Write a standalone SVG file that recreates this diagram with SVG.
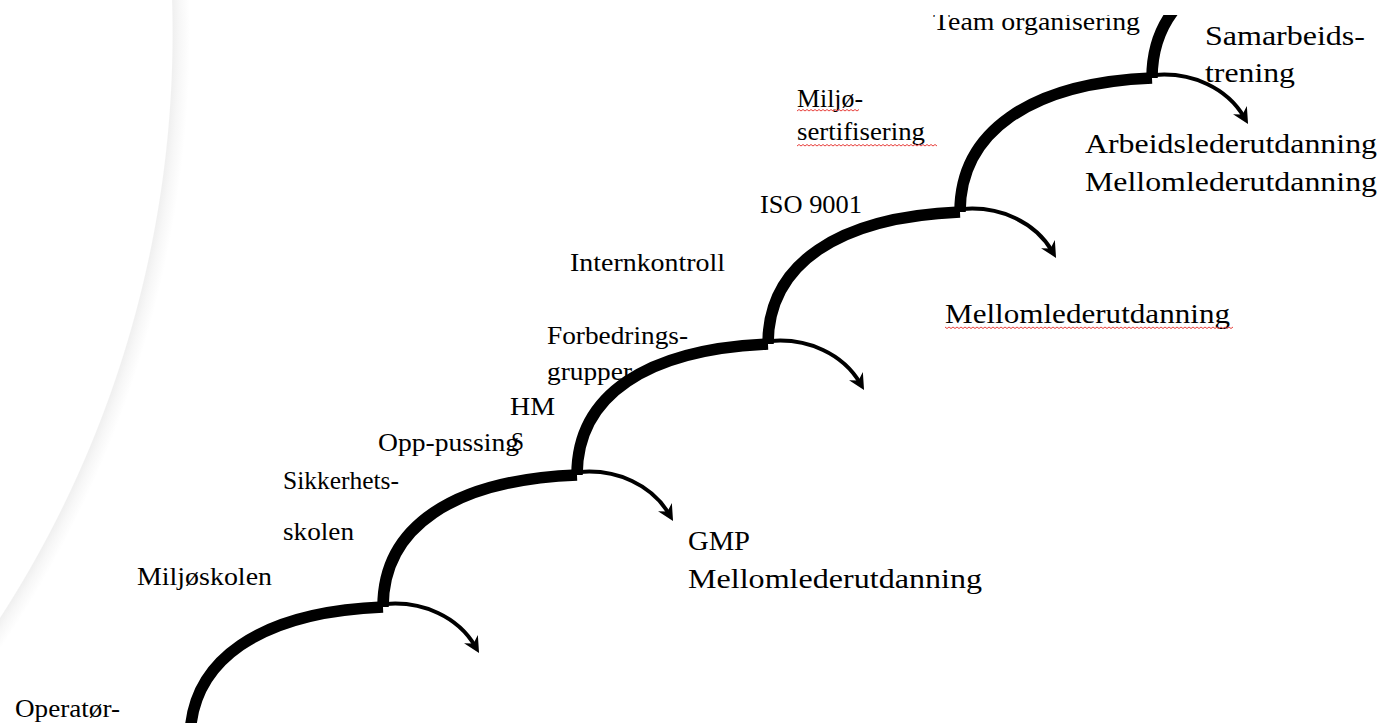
<svg xmlns="http://www.w3.org/2000/svg" width="1386" height="723" viewBox="0 0 1386 723">
  <defs>
    <radialGradient id="shadow" gradientUnits="userSpaceOnUse" cx="-905" cy="33" r="1095">
      <stop offset="0" stop-color="#ffffff"/>
      <stop offset="0.9836" stop-color="#ffffff"/>
      <stop offset="0.9846" stop-color="#f0f0f0"/>
      <stop offset="0.9905" stop-color="#f7f7f7"/>
      <stop offset="1" stop-color="#ffffff"/>
    </radialGradient>
    <clipPath id="page">
      <rect x="0" y="15" width="1386" height="708"/>
    </clipPath>
    <marker id="head" markerUnits="userSpaceOnUse" markerWidth="20" markerHeight="20" viewBox="0 -10 20 20" refX="8" refY="0" orient="auto">
      <path d="M0,-8 L16,0 L0,8 L5,0 z" fill="#000"/>
    </marker>
    <style>
      .step { fill: none; stroke: #000; stroke-width: 11.5; stroke-linecap: butt; }
      .arrow { fill: none; stroke: #000; stroke-width: 4; marker-end: url(#head); }
      .sm { font-family: "Liberation Serif", "Times New Roman", serif; font-size: 25.5px; fill: #000; }
      .lg { font-family: "Liberation Serif", "Times New Roman", serif; font-size: 28px; fill: #000; }
      .wavy { fill: none; stroke: #e8403c; stroke-width: 1; }
    </style>
  </defs>
  <rect width="1386" height="723" fill="#ffffff"/>
  <circle cx="-905" cy="33" r="1095" fill="url(#shadow)"/>

  <g clip-path="url(#page)">
    <g id="connectors">
      <path class="step" d="M190,740 c0,-80 70,-128 193,-133"/>
      <path class="step" d="M383,607 c0,-80 70,-127 194,-132"/>
      <path class="step" d="M577,475 c0,-80 70,-126 191,-131"/>
      <path class="step" d="M768,344 c0,-80 70,-127 192,-132"/>
      <path class="step" d="M960,212 c0,-80 70,-129 192,-134"/>
      <path class="step" d="M1152,78 c0,-80 70,-127 192,-132"/>
      <path class="arrow" d="M386,604 c37,-3 72,13 89,42"/>
      <path class="arrow" d="M580,472 c37,-3 72,13 89,42"/>
      <path class="arrow" d="M771,341 c37,-3 72,13 89,42"/>
      <path class="arrow" d="M963,209 c37,-3 72,13 89,42"/>
      <path class="arrow" d="M1155,75 c37,-3 72,13 89,42"/>
    </g>

    <g id="operator"><text class="sm" x="15" y="717" textLength="105" lengthAdjust="spacingAndGlyphs">Operatør-</text></g>
    <g id="miljoskolen"><text class="sm" x="137" y="585" textLength="135" lengthAdjust="spacingAndGlyphs">Miljøskolen</text></g>
    <g id="sikkerhetsskolen">
      <text class="sm" x="283" y="489" textLength="116" lengthAdjust="spacingAndGlyphs">Sikkerhets-</text>
      <text class="sm" x="283" y="540" textLength="71" lengthAdjust="spacingAndGlyphs">skolen</text>
    </g>
    <g id="opppussing"><text class="sm" x="378" y="451" textLength="141" lengthAdjust="spacingAndGlyphs">Opp-pussing</text></g>
    <g id="hms">
      <text class="sm" x="510" y="415" textLength="45" lengthAdjust="spacingAndGlyphs">HM</text>
      <text class="sm" x="511" y="450" textLength="13" lengthAdjust="spacingAndGlyphs">S</text>
    </g>
    <g id="forbedringsgrupper">
      <text class="sm" x="547" y="344" textLength="141" lengthAdjust="spacingAndGlyphs">Forbedrings-</text>
      <text class="sm" x="547" y="380" textLength="85" lengthAdjust="spacingAndGlyphs">grupper</text>
    </g>
    <g id="internkontroll"><text class="sm" x="570" y="271" textLength="155" lengthAdjust="spacingAndGlyphs">Internkontroll</text></g>
    <g id="iso9001"><text class="sm" x="760" y="213" textLength="102" lengthAdjust="spacingAndGlyphs">ISO 9001</text></g>
    <g id="miljosertifisering">
      <text class="sm" x="797" y="107" textLength="66" lengthAdjust="spacingAndGlyphs">Miljø-</text>
      <text class="sm" x="797" y="140" textLength="128" lengthAdjust="spacingAndGlyphs">sertifisering</text>
      <path class="wavy" d="M797,111 l2,-1.5 l2,1.5 l2,-1.5 l2,1.5 l2,-1.5 l2,1.5 l2,-1.5 l2,1.5 l2,-1.5 l2,1.5 l2,-1.5 l2,1.5 l2,-1.5 l2,1.5 l2,-1.5 l2,1.5 l2,-1.5 l2,1.5 l2,-1.5 l2,1.5 l2,-1.5 l2,1.5 l2,-1.5 l2,1.5 l2,-1.5 l2,1.5 l2,-1.5 l2,1.5 l2,-1.5 l2,1.5 l2,-1.5"/>
      <path class="wavy" d="M797,146 l2,-1.5 l2,1.5 l2,-1.5 l2,1.5 l2,-1.5 l2,1.5 l2,-1.5 l2,1.5 l2,-1.5 l2,1.5 l2,-1.5 l2,1.5 l2,-1.5 l2,1.5 l2,-1.5 l2,1.5 l2,-1.5 l2,1.5 l2,-1.5 l2,1.5 l2,-1.5 l2,1.5 l2,-1.5 l2,1.5 l2,-1.5 l2,1.5 l2,-1.5 l2,1.5 l2,-1.5 l2,1.5 l2,-1.5 l2,1.5 l2,-1.5 l2,1.5 l2,-1.5 l2,1.5 l2,-1.5 l2,1.5 l2,-1.5 l2,1.5 l2,-1.5 l2,1.5 l2,-1.5 l2,1.5 l2,-1.5 l2,1.5 l2,-1.5 l2,1.5 l2,-1.5 l2,1.5 l2,-1.5 l2,1.5 l2,-1.5 l2,1.5 l2,-1.5 l2,1.5 l2,-1.5 l2,1.5 l2,-1.5 l2,1.5 l2,-1.5 l2,1.5 l2,-1.5 l2,1.5 l2,-1.5 l2,1.5 l2,-1.5 l2,1.5 l2,-1.5 l2,1.5"/>
    </g>
    <g id="teamorganisering"><text class="sm" x="933" y="30" textLength="207" lengthAdjust="spacingAndGlyphs">Team organisering</text></g>

    <g id="gmp-mellomleder">
      <text class="lg" x="688" y="550" textLength="62" lengthAdjust="spacingAndGlyphs">GMP</text>
      <text class="lg" x="688" y="588" textLength="294" lengthAdjust="spacingAndGlyphs">Mellomlederutdanning</text>
    </g>
    <g id="mellomleder">
      <text class="lg" x="945" y="323" textLength="285" lengthAdjust="spacingAndGlyphs">Mellomlederutdanning</text>
      <path class="wavy" d="M945,327 l2,1.5 l2,-1.5 l2,1.5 l2,-1.5 l2,1.5 l2,-1.5 l2,1.5 l2,-1.5 l2,1.5 l2,-1.5 l2,1.5 l2,-1.5 l2,1.5 l2,-1.5 l2,1.5 l2,-1.5 l2,1.5 l2,-1.5 l2,1.5 l2,-1.5 l2,1.5 l2,-1.5 l2,1.5 l2,-1.5 l2,1.5 l2,-1.5 l2,1.5 l2,-1.5 l2,1.5 l2,-1.5 l2,1.5 l2,-1.5 l2,1.5 l2,-1.5 l2,1.5 l2,-1.5 l2,1.5 l2,-1.5 l2,1.5 l2,-1.5 l2,1.5 l2,-1.5 l2,1.5 l2,-1.5 l2,1.5 l2,-1.5 l2,1.5 l2,-1.5 l2,1.5 l2,-1.5 l2,1.5 l2,-1.5 l2,1.5 l2,-1.5 l2,1.5 l2,-1.5 l2,1.5 l2,-1.5 l2,1.5 l2,-1.5 l2,1.5 l2,-1.5 l2,1.5 l2,-1.5 l2,1.5 l2,-1.5 l2,1.5 l2,-1.5 l2,1.5 l2,-1.5 l2,1.5 l2,-1.5 l2,1.5 l2,-1.5 l2,1.5 l2,-1.5 l2,1.5 l2,-1.5 l2,1.5 l2,-1.5 l2,1.5 l2,-1.5 l2,1.5 l2,-1.5 l2,1.5 l2,-1.5 l2,1.5 l2,-1.5 l2,1.5 l2,-1.5 l2,1.5 l2,-1.5 l2,1.5 l2,-1.5 l2,1.5 l2,-1.5 l2,1.5 l2,-1.5 l2,1.5 l2,-1.5 l2,1.5 l2,-1.5 l2,1.5 l2,-1.5 l2,1.5 l2,-1.5 l2,1.5 l2,-1.5 l2,1.5 l2,-1.5 l2,1.5 l2,-1.5 l2,1.5 l2,-1.5 l2,1.5 l2,-1.5 l2,1.5 l2,-1.5 l2,1.5 l2,-1.5 l2,1.5 l2,-1.5 l2,1.5 l2,-1.5 l2,1.5 l2,-1.5 l2,1.5 l2,-1.5 l2,1.5 l2,-1.5 l2,1.5 l2,-1.5 l2,1.5 l2,-1.5 l2,1.5 l2,-1.5 l2,1.5 l2,-1.5 l2,1.5 l2,-1.5 l2,1.5 l2,-1.5 l2,1.5 l2,-1.5"/>
    </g>
    <g id="arbeidsleder">
      <text class="lg" x="1085" y="153" textLength="292" lengthAdjust="spacingAndGlyphs">Arbeidslederutdanning</text>
      <text class="lg" x="1085" y="191" textLength="292" lengthAdjust="spacingAndGlyphs">Mellomlederutdanning</text>
    </g>
    <g id="samarbeidstrening">
      <text class="lg" x="1205" y="45" textLength="160" lengthAdjust="spacingAndGlyphs">Samarbeids-</text>
      <text class="lg" x="1205" y="82" textLength="90" lengthAdjust="spacingAndGlyphs">trening</text>
    </g>
  </g>
</svg>
